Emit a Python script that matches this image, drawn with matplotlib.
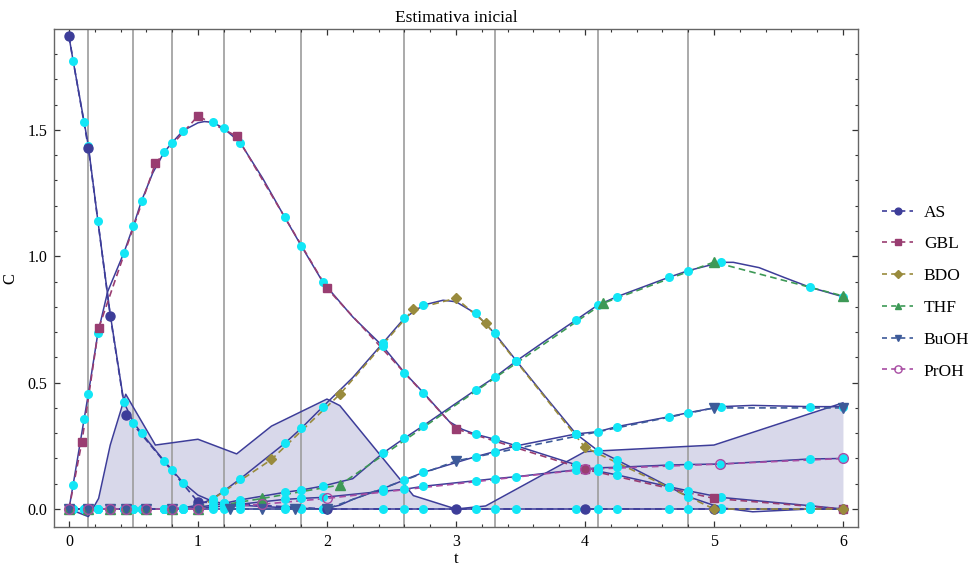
import matplotlib
matplotlib.use("Agg")
import matplotlib.pyplot as plt
from matplotlib.lines import Line2D

plt.rcParams['font.family'] = ['Liberation Serif', 'DejaVu Serif']

species = ["AS", "GBL", "BDO", "THF", "BuOH", "PrOH"]

# experimental points
as_t = [0, 0.15, 0.32, 0.44, 1.0, 2.0, 3.0, 4.0, 5.0, 6.0]
as_c = [1.87, 1.43, 0.765, 0.37, 0.028, 0.0, 0.0, 0.0, 0.0, 0.0]
gbl_t = [0, 0.1, 0.23, 0.67, 1.0, 1.3, 2.0, 3.0, 4.0, 5.0, 6.0]
gbl_c = [0.0, 0.265, 0.715, 1.368, 1.555, 1.475, 0.873, 0.317, 0.157, 0.042, 0.0]
bdo_t = [0, 0.15, 0.32, 0.44, 0.6, 0.8, 1.0, 1.57, 2.1, 2.67, 3.0, 3.23, 4.0, 5.0, 6.0]
bdo_c = [0, 0, 0, 0, 0, 0, 0, 0.196, 0.454, 0.79, 0.834, 0.735, 0.244, 0.0, 0.0]
thf_t = [0, 0.15, 0.32, 0.44, 0.6, 0.8, 1.0, 1.5, 2.1, 4.14, 5.0, 6.0]
thf_c = [0, 0, 0, 0, 0, 0, 0, 0.042, 0.095, 0.814, 0.977, 0.843]
buoh_t = [0, 0.15, 0.32, 0.44, 0.6, 0.8, 1.0, 1.25, 1.5, 1.75, 2.0, 3.0, 5.0, 6.0]
buoh_c = [0, 0, 0, 0, 0, 0, 0, 0, 0, 0, 0, 0.19, 0.4, 0.4]
proh_t = [0, 0.15, 0.32, 0.44, 0.6, 0.8, 1.0, 1.5, 2.0, 4.0, 5.05, 6.0]
proh_c = [0, 0, 0, 0, 0, 0, 0, 0.019, 0.042, 0.157, 0.178, 0.2]

# model values at collocation points (cyan dots)
col_t = [0, 0.032, 0.118, 0.15, 0.224, 0.426, 0.5, 0.563, 0.737, 0.8, 0.885,
         1.115, 1.2, 1.327, 1.673, 1.8, 1.969, 2.431, 2.6, 2.748, 3.152, 3.3,
         3.469, 3.931, 4.1, 4.248, 4.652, 4.8, 5.054, 5.746, 6.0]
as_m = [1.87, 1.774, 1.53, 1.437, 1.141, 0.422, 0.342, 0.3, 0.191, 0.154, 0.104,
        0.03, 0.022, 0.015, 0.005, 0.003, 0, 0, 0, 0, 0, 0,
        0, 0, 0, 0, 0, 0, 0, 0, 0]
gbl_m = [0, 0.095, 0.357, 0.455, 0.695, 1.014, 1.121, 1.22, 1.411, 1.45, 1.497,
         1.53, 1.506, 1.45, 1.154, 1.042, 0.897, 0.645, 0.54, 0.46, 0.296, 0.276,
         0.25, 0.175, 0.15, 0.135, 0.088, 0.072, 0.046, 0.013, 0.0]
bdo_m = [0, 0, 0, 0, 0, 0, 0, 0, 0, 0, 0.005,
         0.041, 0.071, 0.119, 0.26, 0.319, 0.405, 0.655, 0.755, 0.807, 0.774, 0.695,
         0.586, 0.297, 0.231, 0.194, 0.088, 0.049, 0.005, 0.0, 0.0]
thf_m = [0, 0, 0, 0, 0, 0, 0, 0, 0, 0, 0,
         0.015, 0.022, 0.036, 0.066, 0.075, 0.091, 0.22, 0.28, 0.33, 0.471, 0.521,
         0.586, 0.748, 0.807, 0.84, 0.917, 0.943, 0.976, 0.877, 0.84]
buoh_m = [0, 0, 0, 0, 0, 0, 0, 0, 0, 0, 0,
          0, 0, 0, 0, 0, 0, 0.08, 0.115, 0.145, 0.207, 0.227,
          0.25, 0.297, 0.306, 0.326, 0.365, 0.381, 0.405, 0.405, 0.405]
proh_m = [0, 0, 0, 0, 0, 0, 0, 0, 0, 0, 0,
          0.008, 0.012, 0.019, 0.038, 0.042, 0.046, 0.07, 0.078, 0.09, 0.112, 0.12,
          0.128, 0.155, 0.163, 0.165, 0.174, 0.176, 0.178, 0.198, 0.2]

as_xt, as_xc = [0.32, 0.65, 1.0], [0.77, 0.245, 0.055]
gbl_xt, gbl_xc = [0.3, 0.65, 1.0, 1.05, 1.5, 2.2, 2.95, 3.05], [0.86, 1.33, 1.528, 1.533, 1.31, 0.76, 0.345, 0.315]
bdo_xt, bdo_xc = [1.0, 2.2, 2.9, 3.0, 3.7, 5.3], [0.015, 0.52, 0.826, 0.82, 0.44, -0.011]
thf_xt, thf_xc = [2.2, 3.7, 5.15, 5.35, 5.55], [0.12, 0.668, 0.976, 0.955, 0.915]
buoh_xt, buoh_xc = [2.1, 2.2, 5.3], [0.015, 0.038, 0.41]
proh_xt, proh_xc = [], []

# shaded band
band_t = [0, 0.15, 0.23, 0.32, 0.44, 0.67, 1.0, 1.3, 1.57, 2.0, 2.1, 2.67,
          3.0, 3.23, 4.0, 5.0, 6.0]
band_c = [0, -0.03, 0.042, 0.253, 0.454, 0.253, 0.276, 0.218, 0.328, 0.435,
          0.409, 0.053, 0.0, 0.012, 0.227, 0.253, 0.42]

# finite element boundaries
elem_b = [0.15, 0.5, 0.8, 1.2, 1.8, 2.6, 3.3, 4.1, 4.8]

exp_t = [as_t, gbl_t, bdo_t, thf_t, buoh_t, proh_t]
exp_c = [as_c, gbl_c, bdo_c, thf_c, buoh_c, proh_c]
mod_c = [as_m, gbl_m, bdo_m, thf_m, buoh_m, proh_m]
ext_t = [as_xt, gbl_xt, bdo_xt, thf_xt, buoh_xt, proh_xt]
ext_c = [as_xc, gbl_xc, bdo_xc, thf_xc, buoh_xc, proh_xc]

colors = [(0.24, 0.24, 0.6), (0.6, 0.24, 0.443), (0.6, 0.547, 0.24),
          (0.24, 0.6, 0.337), (0.24, 0.353, 0.6), (0.66, 0.3, 0.64)]
markers = ['o', 's', 'D', '^', 'v', 'o']
msizes = [6.5, 6, 5.5, 6.5, 6.5, 7]
model_col = (0.24, 0.24, 0.6)
cyan = '#12E6F6'

fig = plt.figure(figsize=(9.69, 5.69), dpi=100)
ax = fig.add_axes([54/969, 1 - 526.7/569, (858.3-54)/969, (526.7-29.3)/569])

ax.fill_between(band_t, band_c, 0, color=(0.24, 0.24, 0.6), alpha=0.2, lw=0, zorder=1)
ax.plot(band_t, band_c, color=model_col, lw=1.1, zorder=2)

for b in elem_b:
    ax.axvline(b, color='#9c9c9c', lw=1.2, zorder=1.5)

for i in range(6):
    pts = sorted(list(zip(col_t, mod_c[i])) + list(zip(ext_t[i], ext_c[i])))
    ax.plot([p[0] for p in pts], [p[1] for p in pts], color=model_col, lw=1.1, zorder=2.5)

for i in range(6):
    ax.plot(exp_t[i], exp_c[i], color=colors[i], lw=1.2, dashes=(4, 2.5), zorder=3)

for m in mod_c:
    ax.plot(col_t, m, ls='none', marker='o', ms=6.5, color=cyan, mec='none', zorder=4)

for i in range(6):
    if i == 5:
        ax.plot(exp_t[i], exp_c[i], ls='none', marker='o', ms=msizes[i], mfc='none',
                mec=colors[i], mew=1.0, zorder=5)
    else:
        ax.plot(exp_t[i], exp_c[i], ls='none', marker=markers[i], ms=msizes[i],
                color=colors[i], mec=colors[i], zorder=5)

ax.set_xlim(-0.116, 6.119)
ax.set_ylim(-0.07, 1.898)
ax.set_xticks([0, 1, 2, 3, 4, 5, 6])
ax.set_xticks([x / 5 for x in range(0, 31)], minor=True)
ax.set_yticks([0.0, 0.5, 1.0, 1.5])
ax.set_yticklabels(['0.0', '0.5', '1.0', '1.5'])
ax.set_yticks([y / 10 for y in range(0, 19)], minor=True)
ax.tick_params(which='both', direction='in', top=True, right=True, labelsize=11.5,
               color='#333333', pad=5)
ax.tick_params(which='major', length=4, width=0.9)
ax.tick_params(which='minor', length=2.5, width=0.8)
for s in ax.spines.values():
    s.set_color('#666666')
    s.set_linewidth(1.0)

ax.set_title('Estimativa inicial', fontsize=12.5, pad=5)
ax.set_xlabel('t', fontsize=12, labelpad=1)
ax.set_ylabel('C', fontsize=12, labelpad=6)

handles = []
for i in range(6):
    if i == 5:
        h = Line2D([], [], color=colors[i], lw=1.2, dashes=(3, 2.5), marker='o',
                   ms=7, mfc='none', mec=colors[i])
    else:
        h = Line2D([], [], color=colors[i], lw=1.2, dashes=(3, 2.5), marker=markers[i],
                   ms=msizes[i])
    handles.append(h)
fig.legend(handles, species, loc='center left', bbox_to_anchor=(870/969, 1 - 292/569),
           frameon=False, fontsize=12.5, handlelength=1.8, handletextpad=0.6,
           labelspacing=0.9, markerscale=0.75, borderpad=0.2)

fig.savefig('out.png', dpi=100)
